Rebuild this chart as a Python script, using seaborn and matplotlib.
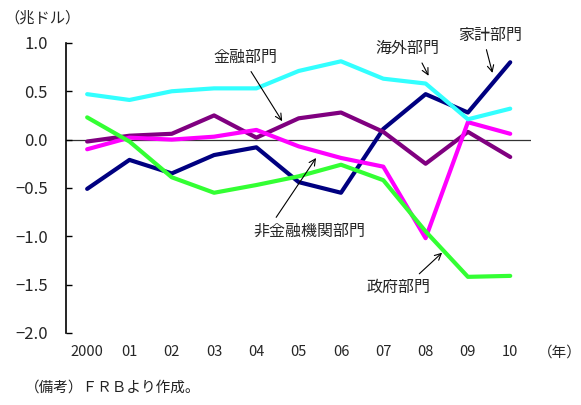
import matplotlib
matplotlib.use("Agg")
import matplotlib.pyplot as plt
import seaborn as sns
import pandas as pd

years = ["2000", "01", "02", "03", "04", "05", "06", "07", "08", "09", "10"]
household = [-0.51, -0.21, -0.35, -0.16, -0.08, -0.44, -0.55, 0.11, 0.47, 0.28, 0.80]
financial = [-0.02, 0.04, 0.06, 0.25, 0.02, 0.22, 0.28, 0.08, -0.25, 0.08, -0.18]
nonfinancial = [-0.10, 0.02, 0.00, 0.03, 0.10, -0.07, -0.19, -0.28, -1.02, 0.18, 0.06]
foreign = [0.47, 0.41, 0.50, 0.53, 0.53, 0.71, 0.81, 0.63, 0.58, 0.21, 0.32]
government = [0.23, -0.02, -0.39, -0.55, -0.47, -0.38, -0.26, -0.42, -0.95, -1.42, -1.41]
ytick_vals = [1.0, 0.5, 0.0, -0.5, -1.0, -1.5, -2.0]
ytick_labels = ["1.0", "0.5", "0.0", "−0.5", "−1.0", "−1.5", "−2.0"]

series = {
    "家計部門": household,
    "金融部門": financial,
    "非金融機関部門": nonfinancial,
    "海外部門": foreign,
    "政府部門": government,
}
colors = {
    "家計部門": "#000080",
    "金融部門": "#800080",
    "非金融機関部門": "#FF00FF",
    "海外部門": "#33FFFF",
    "政府部門": "#33FF33",
}

rows = []
for name, vals in series.items():
    for i, v in enumerate(vals):
        rows.append({"x": i, "value": v, "series": name})
df = pd.DataFrame(rows)

sns.set_theme(style="white")
plt.rcParams["font.family"] = ["Noto Sans CJK JP", "DejaVu Sans"]

fig = plt.figure(figsize=(5.81, 4.05), dpi=100)
ax = fig.add_axes([0.1136, 0.178, 0.801, 0.716])

sns.lineplot(data=df, x="x", y="value", hue="series",
             hue_order=list(series.keys()), palette=colors,
             linewidth=3, legend=False, ax=ax, sort=False)

ax.axhline(0, color="#333333", lw=0.9, zorder=0)
ax.set_xlim(-0.5, 10.5)
ax.set_ylim(-2.0, 1.0)
ax.set_yticks(ytick_vals)
ax.set_yticklabels(ytick_labels)
ax.set_xticks(range(len(years)))
ax.set_xticklabels(years)
ax.set_xlabel("")
ax.set_ylabel("")
for s in ["top", "right", "bottom"]:
    ax.spines[s].set_visible(False)
ax.spines["left"].set_color("black")
ax.spines["left"].set_linewidth(1.2)
ax.tick_params(axis="y", direction="in", length=4, width=1, color="black",
               pad=13, labelsize=12, left=True)
ax.tick_params(axis="x", length=0, pad=9, labelsize=10.5)

arrow = dict(arrowstyle="->", color="black", lw=0.8, shrinkB=0)
fs = 11.5
ax.annotate("金融部門", xy=(4.61, 0.19), xytext=(3.74, 0.85), ha="center", va="center",
            fontsize=fs, arrowprops=dict(arrow, relpos=(0.45, 0.5)))
ax.annotate("海外部門", xy=(8.07, 0.66), xytext=(7.56, 0.94), ha="center", va="center",
            fontsize=fs, arrowprops=dict(arrow, relpos=(0.62, 0.5)))
ax.annotate("家計部門", xy=(9.58, 0.69), xytext=(9.53, 1.08), ha="center", va="center",
            fontsize=fs, arrowprops=dict(arrow, relpos=(0.38, 0.5)), annotation_clip=False)
ax.annotate("非金融機関部門", xy=(5.41, -0.19), xytext=(5.25, -0.95), ha="center", va="center",
            fontsize=fs, arrowprops=dict(arrow, relpos=(0.12, 0.5)))
ax.annotate("政府部門", xy=(8.39, -1.17), xytext=(7.35, -1.53), ha="center", va="center",
            fontsize=fs, arrowprops=dict(arrow, relpos=(0.6, 0.5)))

fig.text(0.008, 1 - 18 / 405, "（兆ドル）", ha="left", va="center", fontsize=11)
fig.text(538 / 581, 1 - 353 / 405, "（年）", ha="left", va="center", fontsize=10.5)
fig.text(25 / 581, 1 - 388 / 405, "（備考）ＦＲＢより作成。", ha="left", va="center",
         fontsize=10.5, color="#222222")

fig.savefig("out.png", dpi=100)
